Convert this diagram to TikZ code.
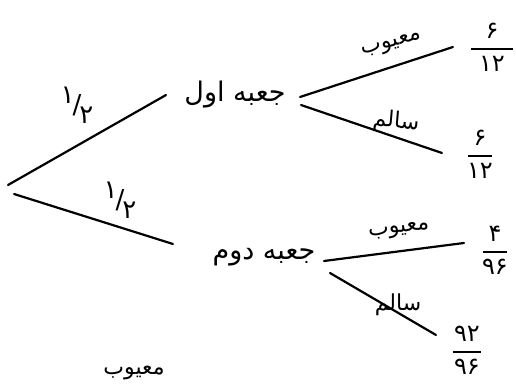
\documentclass[tikz,border=0pt]{standalone}
\usepackage{fontspec}
\newfontfamily\arabicfont[Script=Arabic]{DejaVu Sans}
\TeXXeTstate=1
\newcommand{\pfrac}[3]{$\displaystyle{\hbox to #1{\hss\arabicfont #2\hss}\above 1pt\hbox to #1{\hss\arabicfont #3\hss}}$}
\newcommand{\phalf}{\raisebox{5pt}{۱}\kern-1pt/\kern-1pt\raisebox{-5pt}{۲}}
\begin{document}
\begin{tikzpicture}[x=0.5pt,y=-0.5pt,
  branch/.style={line width=1.1pt, line cap=round},
  boxlbl/.style={font=\arabicfont\fontsize{13.5}{15}\selectfont, inner sep=0pt},
  edgelbl/.style={font=\arabicfont\fontsize{11}{13}\selectfont, inner sep=0pt},
  half/.style={font=\arabicfont\fontsize{13}{15}\selectfont, inner sep=0pt},
  frac/.style={font=\fontsize{12}{14}\selectfont, inner sep=0pt}]
\useasboundingbox[fill=white] (0,0) rectangle (516,385);
% box labels
\node[boxlbl] (b1) at (235,95) {\beginR جعبه اول\endR};
\node[boxlbl] (b2) at (264,257) {\beginR جعبه دوم\endR};
% outcome fractions
\node[frac] (f1) at (492,47) {\pfrac{21pt}{۶}{۱۲}};
\node[frac] (f2) at (480,154) {\pfrac{12pt}{۶}{۱۲}};
\node[frac] (f3) at (495,250) {\pfrac{12pt}{۴}{۹۶}};
\node[frac] (f4) at (467,350) {\pfrac{14pt}{۹۲}{۹۶}};
% branch end points
\coordinate (r1) at (8,185);
\coordinate (r2) at (14,194);
\coordinate (b1in) at (166,95);
\coordinate (b2in) at (173,244);
\coordinate (b1u) at (300,97);
\coordinate (b1d) at (301,105);
\coordinate (f1in) at (453,47);
\coordinate (f2in) at (442,153);
\coordinate (b2u) at (324,261);
\coordinate (b2d) at (330,273);
\coordinate (f3in) at (464,243);
\coordinate (f4in) at (436,335);
% branches
\draw[branch] (r1) -- (b1in);
\draw[branch] (r2) -- (b2in);
\draw[branch] (b1u) -- (f1in);
\draw[branch] (b1d) -- (f2in);
\draw[branch] (b2u) -- (f3in);
\draw[branch] (b2d) -- (f4in);
% branch labels
\node[half] (h1) at (77,105) {\phalf};
\node[half] (h2) at (120,200) {\phalf};
\node[edgelbl, rotate=15] (l1) at (392,45) {\beginR معیوب\endR};
\node[edgelbl, rotate=-5] (l2) at (396,122) {\beginR سالم\endR};
\node[edgelbl, rotate=7] (l3) at (399,231) {\beginR معیوب\endR};
\node[edgelbl] (l4) at (398,305) {\beginR سالم\endR};
\node[edgelbl] (l5) at (134,373) {\beginR معیوب\endR};
\end{tikzpicture}
\end{document}
